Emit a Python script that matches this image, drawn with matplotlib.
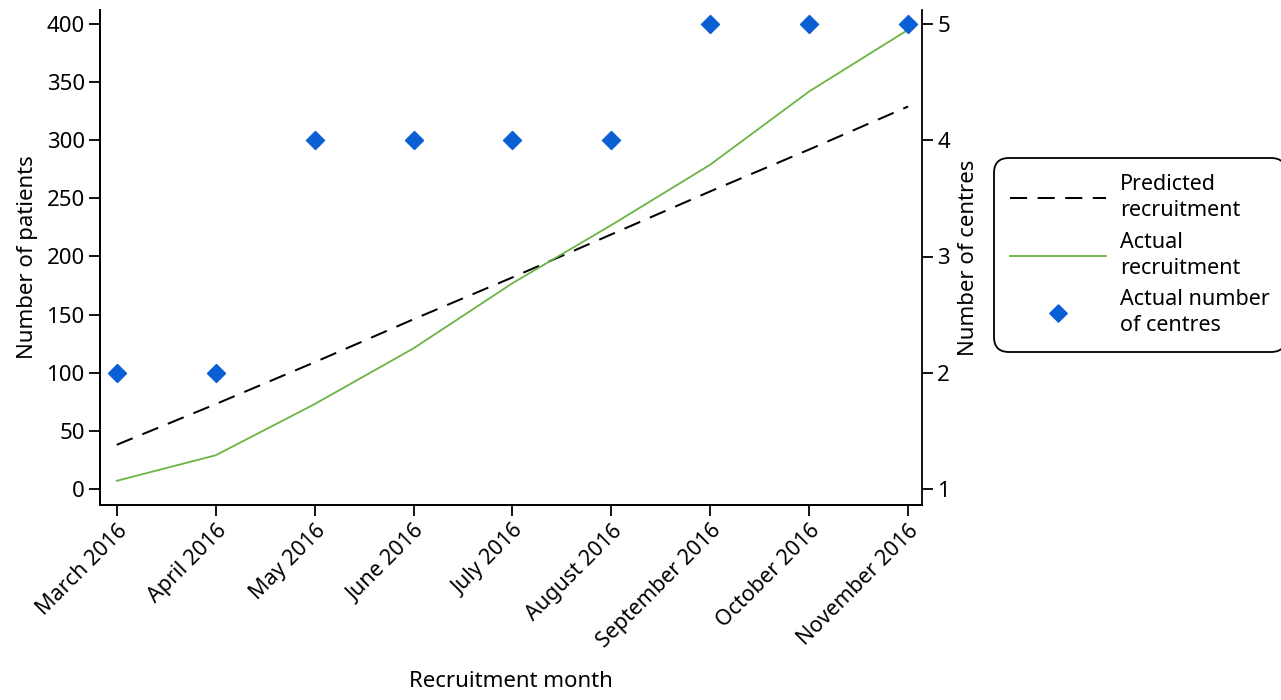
import matplotlib
matplotlib.use("Agg")
import matplotlib.pyplot as plt
from matplotlib.lines import Line2D

plt.rcParams['font.family'] = ['Noto Sans', 'DejaVu Sans']

months = ["March 2016", "April 2016", "May 2016", "June 2016", "July 2016",
          "August 2016", "September 2016", "October 2016", "November 2016"]
predicted = [38, 73, 109, 146, 182, 219, 256, 292, 329]
actual = [7, 29, 73, 121, 177, 227, 279, 342, 395]
centres = [2, 2, 4, 4, 4, 4, 5, 5, 5]

GREEN = '#6ab443'
BLUE = '#0a5fd4'
diamond = [(0, 1), (1, 0), (0, -1), (-1, 0), (0, 1)]
DASH = (8.5, 5.2)
LW = 1.45

fig = plt.figure(figsize=(12.81, 7.0), dpi=100)
ax = fig.add_axes([100/1281, 1-505/700, (922-100)/1281, (505-10)/700])
ax2 = ax.twinx()

x = list(range(len(months)))
ax.plot(x, predicted, color='black', lw=LW, dashes=DASH)
ax.plot(x, actual, color=GREEN, lw=1.3)
ax2.plot(x, centres, linestyle='none', marker=diamond, ms=13, color=BLUE, mec=BLUE)

ax.set_xlim(-0.17, 8.14)
ax.set_ylim(-13.8, 412)
ax2.set_ylim(1 - 16/116.25, 5 + 14/116.25)
ax.set_yticks([0, 50, 100, 150, 200, 250, 300, 350, 400])
ax2.set_yticks([1, 2, 3, 4, 5])
ax.set_xticks(x)
ax.set_xticklabels(months, rotation=45, ha='right', rotation_mode='anchor')

for a in (ax, ax2):
    a.spines['top'].set_visible(False)
    for s in a.spines.values():
        s.set_linewidth(1.3)
    a.tick_params(labelsize=16, width=1.3, length=8, pad=3)
ax.spines['right'].set_visible(False)
ax.tick_params(axis='x', labelsize=15.5)

ax.set_xlabel('Recruitment month', fontsize=16)
ax.xaxis.set_label_coords(0.5, -0.335)
ax.set_ylabel('Number of patients', fontsize=16, labelpad=6)
ax2.set_ylabel('Number of centres', fontsize=16, labelpad=6)

handles = [Line2D([], [], color='black', lw=LW, dashes=DASH),
           Line2D([], [], color=GREEN, lw=1.3),
           Line2D([], [], linestyle='none', marker=diamond, ms=12.5, color=BLUE)]
labels = ['Predicted\nrecruitment', 'Actual\nrecruitment', 'Actual number\nof centres']
leg = fig.legend(handles, labels, loc='upper left', bbox_to_anchor=(994/1281, 1-158/700),
                 borderaxespad=0, fontsize=15.5, frameon=True, fancybox=True,
                 edgecolor='black', framealpha=1, handlelength=4.45, handletextpad=0.65,
                 labelspacing=0.5, borderpad=0.75)
leg.get_frame().set_linewidth(1.3)
leg.get_frame().set_boxstyle('round', pad=0, rounding_size=0.7)
for t in leg.get_texts():
    t.set_linespacing(1.3)

fig.savefig('out.png', dpi=100)
